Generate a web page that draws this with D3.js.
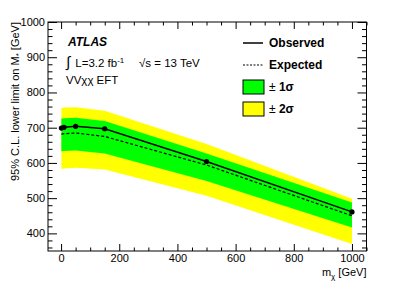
<!DOCTYPE html>
<html>
<head>
<meta charset="utf-8">
<script src="https://cdn.jsdelivr.net/npm/d3@7"></script>
<style>
  body { margin: 0; background: #fff; }
  text { font-family: "Liberation Sans", Arial, Helvetica, sans-serif; fill: #000; }
</style>
</head>
<body>
<svg id="chart" width="399" height="286"></svg>
<script>
// limit values
const mass = [1, 10, 50, 150, 500, 1000];
const observed = [699, 701, 704, 697, 604, 461];
const expected = [682, 683, 685, 675, 594, 450];
const sig1Up = [726, 727, 728, 719, 627, 488];
const sig1Dn = [633, 634, 635, 627, 549, 417];
const sig2Up = [756, 757, 758, 748, 654, 498];
const sig2Dn = [583, 584, 586, 581, 507, 370];

const xMajor = [0, 200, 400, 600, 800, 1000];
const yMajor = [400, 500, 600, 700, 800, 900, 1000];

const frame = { left: 48, right: 366.5, top: 22, bottom: 251 };

const svg = d3.select("#chart");

const x = d3.scaleLinear().domain([-45, 1050]).range([frame.left, frame.right]);
const y = d3.scaleLinear().domain([350, 1000]).range([frame.bottom, frame.top]);

const pts = mass.map((m, i) => ({
    m: m, obs: observed[i], exp: expected[i],
    u1: sig1Up[i], d1: sig1Dn[i], u2: sig2Up[i], d2: sig2Dn[i]
}));

// bands
const band = (lo, hi) => d3.area()
    .x(d => x(d.m))
    .y0(d => y(d[lo]))
    .y1(d => y(d[hi]));

svg.append("path")
    .datum(pts)
    .attr("d", band("d2", "u2"))
    .attr("fill", "#ffff00");

svg.append("path")
    .datum(pts)
    .attr("d", band("d1", "u1"))
    .attr("fill", "#00ff00");

// expected
svg.append("path")
    .datum(pts)
    .attr("d", d3.line().x(d => x(d.m)).y(d => y(d.exp)))
    .attr("fill", "none")
    .attr("stroke", "#000")
    .attr("stroke-width", 1.2)
    .attr("stroke-dasharray", "3,2");

// observed
svg.append("path")
    .datum(pts)
    .attr("d", d3.line().x(d => x(d.m)).y(d => y(d.obs)))
    .attr("fill", "none")
    .attr("stroke", "#000")
    .attr("stroke-width", 1.5);

svg.selectAll("circle.obs")
    .data(pts)
    .join("circle")
    .attr("class", "obs")
    .attr("cx", d => x(d.m))
    .attr("cy", d => y(d.obs))
    .attr("r", 2.6)
    .attr("fill", "#000");

// axes, ROOT style: ticks inside on all four sides
const xMinor = d3.range(0, 1051, 50).filter(v => xMajor.indexOf(v) < 0);
const yMinor = d3.range(360, 1000, 20).filter(v => yMajor.indexOf(v) < 0);
const fmt = d3.format("d");

function styleAxis(g) {
    g.select(".domain").remove();
    g.selectAll("line").attr("stroke", "#000");
    g.selectAll("text").style("font-size", "11px").style("font-family", "'Liberation Sans', Arial, sans-serif");
}

svg.append("g")
    .attr("transform", `translate(0,${frame.bottom})`)
    .call(d3.axisBottom(x).tickValues(xMajor).tickSize(-7).tickPadding(3).tickFormat(fmt))
    .call(styleAxis);
svg.append("g")
    .attr("transform", `translate(0,${frame.bottom})`)
    .call(d3.axisBottom(x).tickValues(xMinor).tickSize(-3.5).tickFormat(""))
    .call(styleAxis);
svg.append("g")
    .attr("transform", `translate(0,${frame.top})`)
    .call(d3.axisTop(x).tickValues(xMajor).tickSize(-7).tickFormat(""))
    .call(styleAxis);
svg.append("g")
    .attr("transform", `translate(0,${frame.top})`)
    .call(d3.axisTop(x).tickValues(xMinor).tickSize(-3.5).tickFormat(""))
    .call(styleAxis);

svg.append("g")
    .attr("transform", `translate(${frame.left},0)`)
    .call(d3.axisLeft(y).tickValues(yMajor).tickSize(-9).tickPadding(3).tickFormat(fmt))
    .call(styleAxis);
svg.append("g")
    .attr("transform", `translate(${frame.left},0)`)
    .call(d3.axisLeft(y).tickValues(yMinor).tickSize(-4.5).tickFormat(""))
    .call(styleAxis);
svg.append("g")
    .attr("transform", `translate(${frame.right},0)`)
    .call(d3.axisRight(y).tickValues(yMajor).tickSize(-9).tickFormat(""))
    .call(styleAxis);
svg.append("g")
    .attr("transform", `translate(${frame.right},0)`)
    .call(d3.axisRight(y).tickValues(yMinor).tickSize(-4.5).tickFormat(""))
    .call(styleAxis);

svg.append("rect")
    .attr("x", frame.left)
    .attr("y", frame.top)
    .attr("width", frame.right - frame.left)
    .attr("height", frame.bottom - frame.top)
    .attr("fill", "none")
    .attr("stroke", "#000")
    .attr("stroke-width", 1);

// axis titles
const yt = svg.append("text")
    .attr("transform", `translate(19,${frame.top}) rotate(-90)`)
    .attr("text-anchor", "end")
    .style("font-size", "11px");
yt.append("tspan").text("95% C.L. lower limit on M");
yt.append("tspan").attr("dy", 2).style("font-size", "8px").text("*");
yt.append("tspan").attr("dy", -2).text(" [GeV]");

const xt = svg.append("text")
    .attr("x", frame.right)
    .attr("y", 276)
    .attr("text-anchor", "end")
    .style("font-size", "11px");
xt.append("tspan").text("m");
xt.append("tspan").attr("dy", 2.5).style("font-size", "8px").text("χ");
xt.append("tspan").attr("dy", -2.5).text(" [GeV]");

// labels
svg.append("text")
    .attr("x", 68).attr("y", 46)
    .style("font-size", "12px")
    .style("font-weight", "bold")
    .style("font-style", "italic")
    .text("ATLAS");

const lumi = svg.append("text")
    .attr("x", 66).attr("y", 67)
    .style("font-size", "11.5px");
lumi.append("tspan").style("font-size", "15px").text("∫");
lumi.append("tspan").attr("dx", 2).text(" L=3.2 fb");
lumi.append("tspan").attr("dy", -4).style("font-size", "8px").text("-1");
svg.append("text")
    .attr("x", 139).attr("y", 67)
    .style("font-size", "11.5px")
    .text("√s = 13 TeV");

svg.append("text")
    .attr("x", 66).attr("y", 84)
    .style("font-size", "11.5px")
    .text("VVχχ EFT");

// legend
const lx = 243;
svg.append("line")
    .attr("x1", lx).attr("x2", lx + 20)
    .attr("y1", 43).attr("y2", 43)
    .attr("stroke", "#000").attr("stroke-width", 1.5);
svg.append("line")
    .attr("x1", lx).attr("x2", lx + 20)
    .attr("y1", 65).attr("y2", 65)
    .attr("stroke", "#000").attr("stroke-width", 1.2)
    .attr("stroke-dasharray", "2,1.5");

svg.append("text").attr("x", 269).attr("y", 47)
    .style("font-size", "12px").style("font-weight", "bold").text("Observed");
svg.append("text").attr("x", 269).attr("y", 69)
    .style("font-size", "12px").style("font-weight", "bold").text("Expected");

const boxes = [["#00ff00", "1σ", 80], ["#ffff00", "2σ", 102]];
boxes.forEach(b => {
    svg.append("rect")
        .attr("x", lx).attr("y", b[2])
        .attr("width", 21).attr("height", 14)
        .attr("fill", b[0])
        .attr("stroke", "#000").attr("stroke-width", 1);
    const t = svg.append("text").attr("x", 269).attr("y", b[2] + 11)
        .style("font-size", "12px");
    t.append("tspan").text("± ");
    t.append("tspan").style("font-weight", "bold").text(b[1]);
});
</script>
</body>
</html>
